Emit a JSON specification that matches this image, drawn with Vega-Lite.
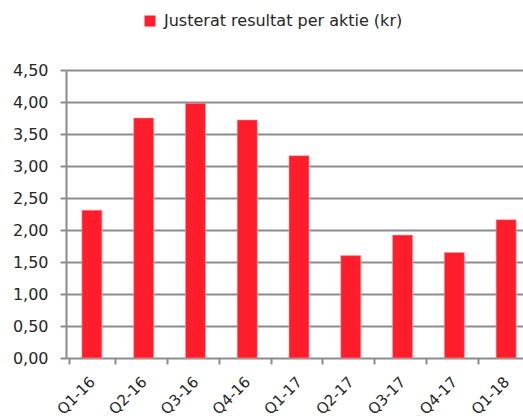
{
  "$schema": "https://vega.github.io/schema/vega-lite/v6.json",
  "width": 466,
  "height": 288,
  "autosize": {"type": "none"},
  "padding": {"left": 66, "top": 70, "right": 0, "bottom": 60},
  "background": "white",
  "data": {
    "values": [
      {"q": "Q1-16", "v": 2.31},
      {"q": "Q2-16", "v": 3.75},
      {"q": "Q3-16", "v": 3.98},
      {"q": "Q4-16", "v": 3.72},
      {"q": "Q1-17", "v": 3.16},
      {"q": "Q2-17", "v": 1.60},
      {"q": "Q3-17", "v": 1.92},
      {"q": "Q4-17", "v": 1.65},
      {"q": "Q1-18", "v": 2.16}
    ]
  },
  "mark": {"type": "bar", "width": 20, "stroke": "#ff9aa0", "strokeWidth": 0.6},
  "encoding": {
    "x": {
      "field": "q", "type": "nominal", "sort": null, "title": null,
      "axis": {
        "labelAngle": -45, "labelAlign": "right", "labelBaseline": "middle",
        "tickBand": "extent", "tickSize": 6, "tickColor": "#8c8c8c", "tickWidth": 2,
        "domain": false, "labelFontSize": 15, "labelColor": "#262626", "labelPadding": 15, "labelDx": 5,
        "grid": false
      }
    },
    "y": {
      "field": "v", "type": "quantitative", "title": null,
      "scale": {"domain": [0, 4.5], "nice": false},
      "axis": {
        "values": [0, 0.5, 1, 1.5, 2, 2.5, 3, 3.5, 4, 4.5],
        "format": ".2f", "tickSize": 6, "tickColor": "#8c8c8c", "tickWidth": 2,
        "domainColor": "#8c8c8c", "domainWidth": 2,
        "gridColor": "#8c8c8c", "gridWidth": 2,
        "labelFontSize": 16, "labelColor": "#262626", "labelPadding": 12
      }
    },
    "color": {
      "datum": "Justerat resultat per aktie (kr)",
      "scale": {"range": ["#ff1c2b"]},
      "legend": {
        "title": null, "orient": "none", "legendX": 76, "legendY": -57,
        "symbolType": "square", "symbolSize": 121, "symbolStrokeWidth": 0,
        "labelFontSize": 16, "labelColor": "#262626", "labelOffset": 6, "labelLimit": 500
      }
    }
  },
  "config": {
    "font": "DejaVu Sans",
    "view": {"stroke": null},
    "locale": {"number": {"decimal": ",", "thousands": " ", "grouping": [3], "currency": ["", " kr"]}}
  }
}
